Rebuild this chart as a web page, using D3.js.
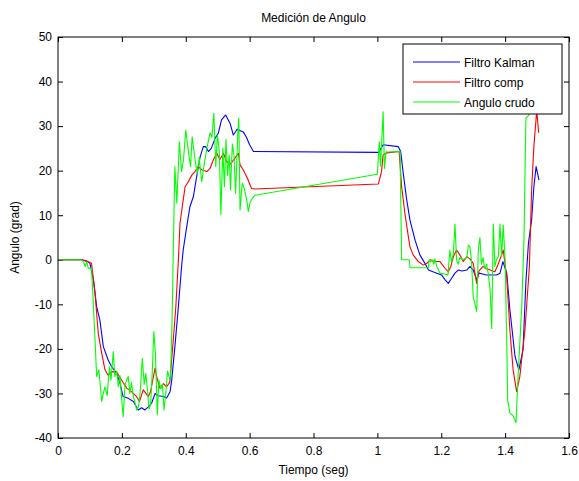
<!DOCTYPE html>
<html lang="es">
<head>
  <meta charset="UTF-8" />
  <title>Medición de Angulo</title>
  <script src="https://d3js.org/d3.v7.min.js"></script>
  <style>
    html, body { margin: 0; background: #fff; }
    svg { display: block; font-family: "Liberation Sans", Arial, sans-serif; }
    .tick text { font-size: 12px; fill: #000; }
    .tick line { stroke: #000; }
    .series { fill: none; stroke-width: 1.1; stroke-linejoin: round; }
  </style>
</head>
<body>
  <svg id="chart" width="579" height="481"></svg>
  <script>
    // Filtro Kalman
    const kalmanT = [0, 0.074, 0.09, 0.1, 0.111, 0.121, 0.131, 0.142, 0.157, 0.168, 0.184, 0.194, 0.204, 0.22, 0.236, 0.251, 0.262, 0.272, 0.283, 0.293, 0.304, 0.314, 0.33, 0.34, 0.351, 0.356, 0.366, 0.377, 0.387, 0.392, 0.403, 0.413, 0.424, 0.434, 0.445, 0.455, 0.462, 0.471, 0.48, 0.492, 0.502, 0.512, 0.525, 0.539, 0.549, 0.561, 0.58, 0.59, 0.6, 0.612, 1.004, 1.018, 1.065, 1.073, 1.081, 1.092, 1.102, 1.118, 1.133, 1.149, 1.16, 1.186, 1.201, 1.212, 1.222, 1.233, 1.243, 1.253, 1.265, 1.28, 1.29, 1.30, 1.311, 1.318, 1.33, 1.34, 1.36, 1.373, 1.384, 1.393, 1.405, 1.415, 1.431, 1.443, 1.456, 1.465, 1.473, 1.483, 1.49, 1.497, 1.506];
    const kalmanY = [0, 0, -0.3, -0.8, -4.5, -10.5, -13.5, -19.5, -22.5, -24, -25.5, -27.7, -30.7, -31.1, -31.8, -33.7, -33.2, -33.7, -33, -32.2, -30, -30.5, -30.7, -31, -29.6, -27, -19.5, -10.5, -1.5, 2.2, 7.4, 11.9, 14.2, 18.6, 23.1, 25.4, 25.4, 24.3, 25, 27.3, 28.4, 31.4, 32.5, 30.6, 28, 29.3, 28.7, 27.5, 25.8, 24.3, 24.1, 25.8, 25.4, 24.3, 19.4, 13.4, 8.9, 4.4, 1.1, -0.8, -2.3, -3, -3.4, -4.5, -5.3, -4.1, -3, -2.3, -2.5, -2.3, -1.5, -2.3, -4.5, -3, -3.2, -3.4, -3.4, -3.4, -3, -0.4, -3, -11.3, -21.7, -24.7, -20.2, -5, 3.7, 9, 16.4, 20.9, 17.9];

    // Filtro comp
    const compT = [0, 0.074, 0.09, 0.105, 0.116, 0.126, 0.137, 0.147, 0.157, 0.168, 0.184, 0.199, 0.215, 0.23, 0.246, 0.255, 0.267, 0.283, 0.29, 0.304, 0.31, 0.319, 0.33, 0.34, 0.35, 0.361, 0.369, 0.377, 0.382, 0.392, 0.398, 0.408, 0.419, 0.429, 0.439, 0.45, 0.466, 0.476, 0.486, 0.497, 0.507, 0.518, 0.528, 0.54, 0.554, 0.565, 0.57, 0.58, 0.593, 0.606, 0.615, 1.003, 1.013, 1.018, 1.03, 1.068, 1.076, 1.086, 1.097, 1.102, 1.112, 1.128, 1.144, 1.155, 1.165, 1.18, 1.196, 1.212, 1.222, 1.23, 1.238, 1.248, 1.258, 1.269, 1.28, 1.29, 1.30, 1.311, 1.318, 1.331, 1.34, 1.35, 1.36, 1.368, 1.378, 1.389, 1.394, 1.405, 1.415, 1.425, 1.436, 1.446, 1.462, 1.476, 1.483, 1.49, 1.499, 1.505];
    const compY = [0, 0, -0.3, -0.8, -7.5, -16.5, -21, -24.7, -25.9, -25.1, -25.2, -27, -28.8, -29.6, -30.7, -31.8, -29.2, -30.7, -29.5, -24.3, -26.5, -28.8, -27.8, -28.5, -27.5, -18, -10.5, 0, 8.2, 13.4, 16.4, 17.5, 19, 19.8, 20.9, 20.2, 19.8, 20.5, 22.4, 23.9, 22.5, 23.9, 22, 21.5, 22.8, 23.9, 21.3, 20.2, 18.3, 16, 15.9, 17, 19.8, 23.5, 24, 24.3, 16.4, 10.5, 5.2, 2.9, 1.1, -0.4, -1.2, -0.8, 0, -0.4, -0.4, -1.9, -2.7, -1.5, 0.7, 2.2, 1.1, -0.4, 0.7, 0.2, -0.8, -5.3, -2.5, -1.5, -2, -2.2, -2.5, -2.7, -1, 1.1, 2.2, -3.8, -15.8, -24.7, -29.6, -26.2, -15.8, -1.5, 15.7, 25.4, 33.5, 28.5];

    // Angulo crudo
    const crudoT = [0, 0.074, 0.08, 0.085, 0.09, 0.095, 0.105, 0.111, 0.116, 0.121, 0.128, 0.137, 0.142, 0.147, 0.154, 0.161, 0.166, 0.173, 0.178, 0.184, 0.189, 0.194, 0.199, 0.204, 0.21, 0.215, 0.22, 0.225, 0.23, 0.236, 0.241, 0.246, 0.252, 0.257, 0.264, 0.27, 0.275, 0.28, 0.285, 0.29, 0.295, 0.30, 0.305, 0.311, 0.316, 0.322, 0.327, 0.332, 0.338, 0.343, 0.348, 0.352, 0.357, 0.361, 0.366, 0.372, 0.38, 0.387, 0.393, 0.4, 0.407, 0.415, 0.42, 0.428, 0.436, 0.442, 0.45, 0.456, 0.466, 0.476, 0.482, 0.488, 0.494, 0.499, 0.505, 0.51, 0.516, 0.521, 0.526, 0.531, 0.536, 0.54, 0.546, 0.551, 0.556, 0.563, 0.566, 0.57, 0.577, 0.584, 0.591, 0.596, 0.601, 0.606, 0.617, 1.0, 1.006, 1.01, 1.018, 1.022, 1.027, 1.071, 1.076, 1.1, 1.102, 1.16, 1.162, 1.167, 1.172, 1.177, 1.18, 1.186, 1.196, 1.21, 1.221, 1.227, 1.232, 1.238, 1.243, 1.248, 1.253, 1.258, 1.269, 1.28, 1.285, 1.29, 1.295, 1.30, 1.311, 1.316, 1.321, 1.326, 1.331, 1.336, 1.342, 1.347, 1.353, 1.358, 1.363, 1.368, 1.373, 1.379, 1.384, 1.389, 1.394, 1.4, 1.405, 1.408, 1.415, 1.425, 1.434, 1.441, 1.452, 1.459, 1.465, 1.475, 1.48];
    const crudoY = [0, 0, -0.5, -1.5, -0.5, -1.9, -1.9, -10.5, -18, -26.2, -24.7, -31.8, -30, -28.5, -30.5, -24, -27, -20.6, -26.2, -25, -28.5, -26, -31, -35.2, -28, -27, -26.2, -30, -27.5, -30.7, -32, -33.7, -33, -30, -22.1, -28, -25.5, -29.2, -33.5, -32.5, -25.5, -16.1, -21, -34.8, -27, -29, -28, -33.7, -29.5, -25, -26.2, -27, -14.3, 2.2, 20.9, 12.7, 26.5, 19.8, 22.5, 29.1, 25, 20.9, 27.6, 23, 19.4, 23, 17.5, 20.5, 25, 28.5, 27.5, 32.9, 20.9, 28, 24.5, 10.1, 25, 16.4, 27, 19, 23.5, 15.7, 26, 23.5, 14.9, 28.4, 31.8, 11.2, 17.2, 15.8, 13.4, 10.8, 12.7, 13.5, 14.5, 19.2, 26.5, 21, 33.2, 20.5, 24.2, 24.3, 0, 0, -1.8, -1.8, 0, -0.5, 0, -1, 0.2, -1.5, -3, -3.2, -3.4, 2.2, -0.5, 1.5, 8, 0, -1, 0.5, 0, 0.5, 3.3, 2.9, -0.5, -8.3, -11.6, 2.2, 5, -1, 0.5, -2, -1, -3, -6.8, -15.4, 8, -1.5, 0, 0.8, 8, 0.8, 7.8, 0, -18, -31.5, -34.4, -35, -36.6, -25.4, -10.5, 4.4, 31.8, 32.5, 38];

    const xTicks = [0, 0.2, 0.4, 0.6, 0.8, 1, 1.2, 1.4, 1.6];
    const yTicks = [-40, -30, -20, -10, 0, 10, 20, 30, 40, 50];
    const seriesNames = ['Filtro Kalman', 'Filtro comp', 'Angulo crudo'];
    const seriesColors = ['#0000ff', '#ff0000', '#00ff00'];

    const plotL = 58, plotR = 569, plotT = 37, plotB = 438;
    const svg = d3.select('#chart');

    const x = d3.scaleLinear().domain([0, 1.6]).range([plotL, plotR]);
    const y = d3.scaleLinear().domain([-40, 50]).range([plotB, plotT]);
    const fmt = d => String(+d.toFixed(1));

    svg.append('defs').append('clipPath').attr('id', 'plot-clip')
      .append('rect')
      .attr('x', plotL).attr('y', plotT)
      .attr('width', plotR - plotL).attr('height', plotB - plotT);

    // axes with inward ticks, mirrored on top/right
    svg.append('g').attr('transform', `translate(0,${plotB})`)
      .call(d3.axisBottom(x).tickValues(xTicks).tickFormat(fmt).tickSizeInner(-5).tickSizeOuter(0).tickPadding(8))
      .call(g => g.select('.domain').remove());
    svg.append('g').attr('transform', `translate(0,${plotT})`)
      .call(d3.axisTop(x).tickValues(xTicks).tickFormat('').tickSizeInner(-5).tickSizeOuter(0))
      .call(g => g.select('.domain').remove());
    svg.append('g').attr('transform', `translate(${plotL},0)`)
      .call(d3.axisLeft(y).tickValues(yTicks).tickFormat(fmt).tickSizeInner(-5).tickSizeOuter(0).tickPadding(6))
      .call(g => g.select('.domain').remove());
    svg.append('g').attr('transform', `translate(${plotR},0)`)
      .call(d3.axisRight(y).tickValues(yTicks).tickFormat('').tickSizeInner(-5).tickSizeOuter(0))
      .call(g => g.select('.domain').remove());

    const data = [
      d3.zip(kalmanT, kalmanY),
      d3.zip(compT, compY),
      d3.zip(crudoT, crudoY)
    ];
    const line = d3.line().x(d => x(d[0])).y(d => y(d[1]));

    svg.append('g').attr('clip-path', 'url(#plot-clip)')
      .selectAll('path')
      .data(data)
      .enter().append('path')
      .attr('class', 'series')
      .attr('stroke', (d, i) => seriesColors[i])
      .attr('d', line);

    svg.append('rect')
      .attr('x', plotL).attr('y', plotT)
      .attr('width', plotR - plotL).attr('height', plotB - plotT)
      .attr('fill', 'none').attr('stroke', '#000').attr('stroke-width', 1);

    // legend
    const lg = svg.append('g').attr('transform', 'translate(403,44)');
    lg.append('rect')
      .attr('width', 159).attr('height', 70)
      .attr('fill', '#fff').attr('stroke', '#000').attr('stroke-width', 1);
    seriesNames.forEach((name, i) => {
      const yy = 18 + i * 20;
      lg.append('line')
        .attr('x1', 10).attr('x2', 57).attr('y1', yy).attr('y2', yy)
        .attr('stroke', seriesColors[i]).attr('stroke-width', 1.1);
      lg.append('text')
        .attr('x', 61).attr('y', yy + 4.5)
        .attr('font-size', 12).text(name);
    });

    svg.append('text')
      .attr('x', (plotL + plotR) / 2).attr('y', 22)
      .attr('text-anchor', 'middle').attr('font-size', 12)
      .text('Medición de Angulo');
    svg.append('text')
      .attr('x', (plotL + plotR) / 2).attr('y', 474)
      .attr('text-anchor', 'middle').attr('font-size', 12)
      .text('Tiempo (seg)');
    svg.append('text')
      .attr('transform', `translate(19,${(plotT + plotB) / 2}) rotate(-90)`)
      .attr('text-anchor', 'middle').attr('font-size', 12)
      .text('Angulo (grad)');
  </script>
</body>
</html>
